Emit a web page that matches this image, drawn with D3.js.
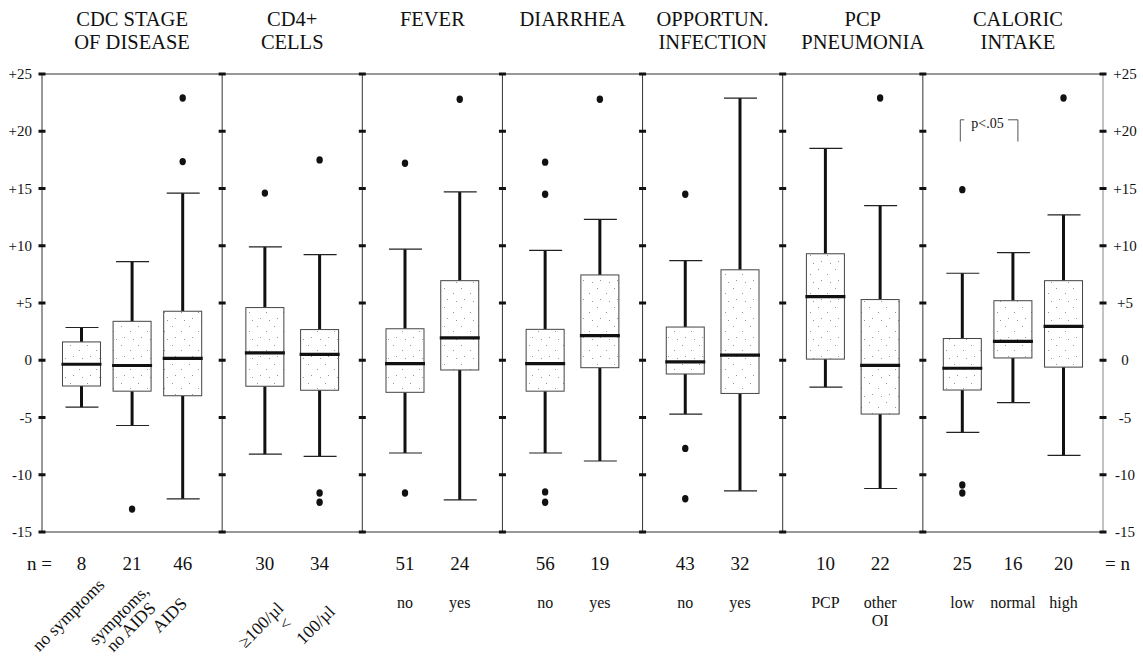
<!DOCTYPE html>
<html><head><meta charset="utf-8">
<script src="https://cdn.jsdelivr.net/npm/d3@7"></script>
<style>
body{margin:0;background:#fff;}
</style>
</head><body>
<svg id="chart" width="1143" height="662" font-family="'Liberation Serif', 'Times New Roman', Times, serif"></svg>
<script>
// ---------------- DATA ----------------
const panelTitles = [["CDC STAGE","OF DISEASE"],["CD4+","CELLS"],["FEVER"],["DIARRHEA"],["OPPORTUN.","INFECTION"],["PCP","PNEUMONIA"],["CALORIC","INTAKE"]];
const categories = [
  [["no symptoms"],["symptoms,","no AIDS"],["AIDS"]],
  [["≥100/µl"],["100/µl"]],
  [["no"],["yes"]],
  [["no"],["yes"]],
  [["no"],["yes"]],
  [["PCP"],["other","OI"]],
  [["low"],["normal"],["high"]]
];
const nValues = [[8,21,46],[30,34],[51,24],[56,19],[43,32],[10,22],[25,16,20]];
const whiskerLow  = [[-4.1,-5.7,-12.1],[-8.2,-8.4],[-8.1,-12.2],[-8.1,-8.8],[-4.7,-11.4],[-2.35,-11.2],[-6.3,-3.7,-8.3]];
const quart1      = [[-2.25,-2.7,-3.1],[-2.27,-2.62],[-2.8,-0.85],[-2.7,-0.65],[-1.2,-2.9],[0.1,-4.7],[-2.6,0.2,-0.6]];
const medians     = [[-0.35,-0.46,0.17],[0.65,0.52],[-0.3,1.95],[-0.3,2.15],[-0.15,0.45],[5.55,-0.45],[-0.7,1.65,2.95]];
const quart3      = [[1.6,3.4,4.28],[4.6,2.68],[2.75,6.95],[2.7,7.45],[2.9,7.9],[9.3,5.3],[1.9,5.2,6.95]];
const whiskerHigh = [[2.86,8.62,14.6],[9.9,9.23],[9.7,14.7],[9.6,12.3],[8.7,22.9],[18.5,13.5],[7.6,9.4,12.7]];
const outliers    = [[[],[-13.0],[22.9,17.35]],[[14.6],[17.5,-11.6,-12.4]],[[17.2,-11.6],[22.8]],[[17.3,14.5,-11.5,-12.4],[22.8]],[[14.5,-7.7,-12.1],[]],[[],[22.9]],[[14.9,-10.9,-11.6],[],[22.9]]];
const yTicks = [25,20,15,10,5,0,-5,-10,-15];
const yTickLabels = ["+25","+20","+15","+10","+5","0","-5","-10","-15"];
const sigLabel = "p<.05";
const sigRange = [19.1, 21.0];

// ---------------- LAYOUT ----------------
const FONT = "'Liberation Serif', 'Times New Roman', Times, serif";
const svg = d3.select("#chart");
const left = 42, right = 1103;
const y = d3.scaleLinear().domain([-15, 25]).range([532, 74]);

const units = categories.map(c => c.length + 1.5);
const cum = [0]; units.forEach(u => cum.push(cum[cum.length-1] + u));
const xPanel = d3.scaleLinear().domain([0, cum[cum.length-1]]).range([left, right]);
const bounds = cum.map(c => xPanel(c));

function txt(sel){ return sel.append("text").attr("font-family",FONT).attr("fill","#111"); }

const defs = svg.append("defs");
const pat = defs.append("pattern").attr("id","stip").attr("patternUnits","userSpaceOnUse").attr("width",17).attr("height",19);
pat.append("rect").attr("width",17).attr("height",19).attr("fill","#fff");
[[2,3],[11,8],[5,14],[14,16]].forEach(p => pat.append("rect").attr("x",p[0]).attr("y",p[1]).attr("width",1).attr("height",1).attr("fill","#9a9a9a"));

// frame
svg.append("line").attr("x1",left).attr("x2",right).attr("y1",y(25)).attr("y2",y(25)).attr("stroke","#333").attr("stroke-width",1.2);
svg.append("line").attr("x1",left).attr("x2",right).attr("y1",y(-15)).attr("y2",y(-15)).attr("stroke","#333").attr("stroke-width",1.2);
bounds.forEach((bx,i) => {
  svg.append("line").attr("x1",bx).attr("x2",bx).attr("y1",y(25)).attr("y2",y(-15))
    .attr("stroke", i===bounds.length-1 ? "#888" : "#333").attr("stroke-width",1);
  yTicks.forEach(t => {
    svg.append("rect").attr("x",bx-3.5).attr("y",y(t)-1.5).attr("width",7).attr("height",3).attr("fill","#111");
  });
});

// y labels
yTicks.forEach((t,i) => {
  txt(svg).attr("x",32).attr("y",y(t)+5).attr("text-anchor","end").attr("font-size",15).text(yTickLabels[i]);
  txt(svg).attr("x",1125).attr("y",y(t)+5).attr("text-anchor","middle").attr("font-size",15).text(yTickLabels[i]);
});

// headers
const headerShift = [0,0,0,0,0,10,5];
panelTitles.forEach((lines,p) => {
  const cx = (bounds[p]+bounds[p+1])/2 + headerShift[p];
  lines.forEach((l,j) => {
    txt(svg).attr("x",cx).attr("y",26+j*23).attr("text-anchor","middle").attr("font-size",20.5).text(l);
  });
});

// n row
txt(svg).attr("x",27).attr("y",570).attr("font-size",19).text("n =");
txt(svg).attr("x",1105).attr("y",570).attr("font-size",19).text("= n");

const rotY = [619, 629];
const boxCenters = [];
categories.forEach((cats,p) => {
  const xs = d3.scalePoint().domain(d3.range(cats.length)).range([bounds[p], bounds[p+1]]).padding(0.78);
  cats.forEach((lab,k) => {
    const bx = xs(k);
    if (p===6 && k<2) boxCenters.push(bx);
    const g = svg.append("g");
    g.append("line").attr("x1",bx).attr("x2",bx).attr("y1",y(whiskerLow[p][k])).attr("y2",y(quart1[p][k])).attr("stroke","#111").attr("stroke-width",3);
    g.append("line").attr("x1",bx).attr("x2",bx).attr("y1",y(quart3[p][k])).attr("y2",y(whiskerHigh[p][k])).attr("stroke","#111").attr("stroke-width",3);
    [whiskerLow[p][k], whiskerHigh[p][k]].forEach(v => {
      g.append("line").attr("x1",bx-16).attr("x2",bx+17).attr("y1",y(v)).attr("y2",y(v)).attr("stroke","#222").attr("stroke-width",1.2);
    });
    g.append("rect").attr("x",bx-19).attr("width",38).attr("y",y(quart3[p][k])).attr("height",y(quart1[p][k])-y(quart3[p][k]))
      .attr("fill","url(#stip)").attr("stroke","#444").attr("stroke-width",1);
    g.append("line").attr("x1",bx-20).attr("x2",bx+20).attr("y1",y(medians[p][k])).attr("y2",y(medians[p][k])).attr("stroke","#111").attr("stroke-width",3.2);
    outliers[p][k].forEach(v => {
      g.append("ellipse").attr("cx",bx).attr("cy",y(v)).attr("rx",3.2).attr("ry",3.7).attr("fill","#111");
    });
    txt(svg).attr("x",bx).attr("y",570).attr("text-anchor","middle").attr("font-size",19).text(nValues[p][k]);
    if (p < 2) {
      const cx = bx - (p===0 ? 9 : 0), cy = rotY[p];
      lab.forEach((l,j) => {
        txt(svg).attr("transform",`translate(${cx + j*12},${cy + j*12}) rotate(-45)`)
          .attr("text-anchor","middle").attr("font-size",17.5).text(l);
      });
      if (p===1 && k===1) {
        txt(svg).attr("transform",`translate(${bx-30},${cy-1}) rotate(-45)`)
          .attr("text-anchor","middle").attr("font-size",17.5).text("<");
      }
    } else {
      lab.forEach((l,j) => {
        txt(svg).attr("x",bx).attr("y",608+j*18).attr("text-anchor","middle").attr("font-size",16).text(l);
      });
    }
  });
});

// significance bracket between low and normal caloric intake
const bL = boxCenters[0]-2, bR = boxCenters[1]+5;
const sg = svg.append("g").attr("stroke","#555").attr("stroke-width",1).attr("fill","none");
sg.append("path").attr("d",`M${bL+4},${y(sigRange[1])} H${bL} V${y(sigRange[0])}`);
sg.append("path").attr("d",`M${bR-10},${y(sigRange[1])} H${bR} V${y(sigRange[0])}`);
txt(svg).attr("x",bL+11).attr("y",y(sigRange[1])+8).attr("font-size",14).text(sigLabel);
</script>
</body></html>
